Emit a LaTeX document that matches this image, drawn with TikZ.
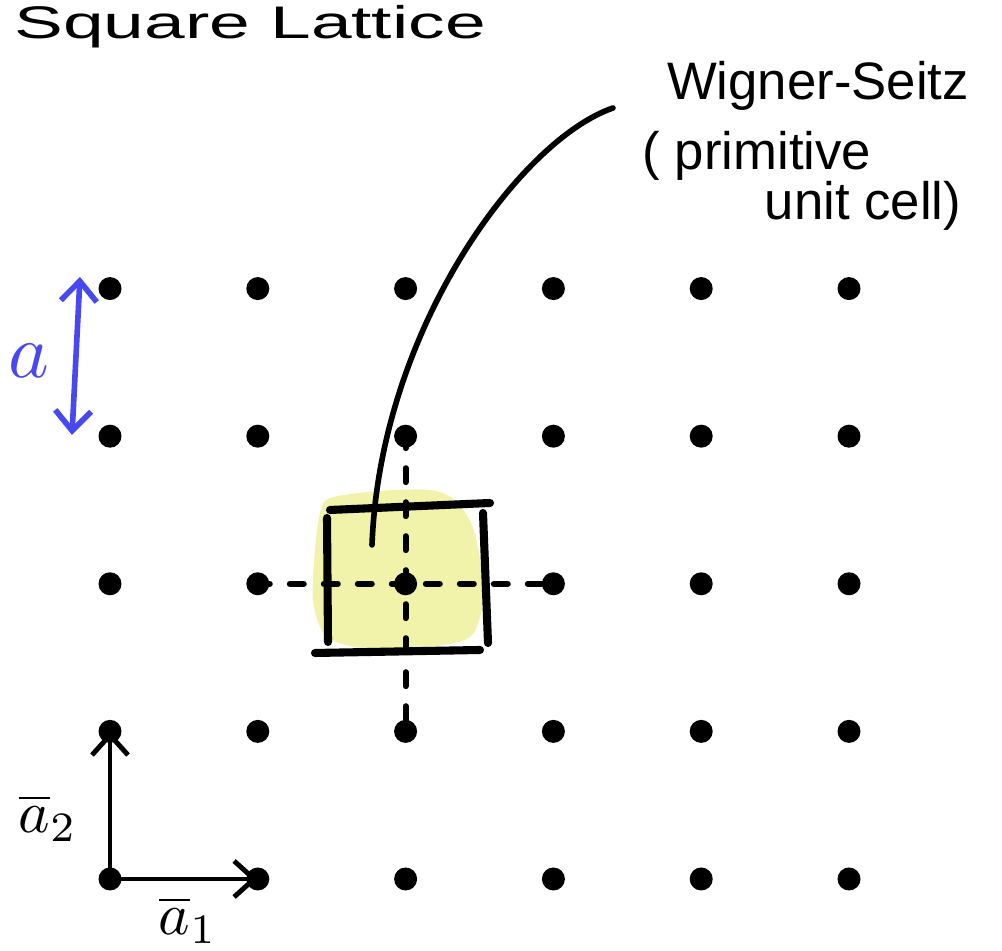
\documentclass[tikz,border=0pt]{standalone}
\usepackage{fontspec}
\setmainfont{Liberation Sans}
\usepackage{amsmath}
\usetikzlibrary{arrows.meta,backgrounds}
\definecolor{azulA}{HTML}{4848F2}
\definecolor{amarilloWS}{HTML}{F1F3AA}

\begin{document}
\begin{tikzpicture}[
    punto/.style={circle,fill=black,inner sep=0pt,minimum size=0.23cm},
    borde/.style={line width=2.3pt,line cap=round},
    guia/.style={line width=1.7pt,line cap=round,dash pattern=on 0.14cm off 0.2cm,dash phase=0.02cm},
    vect/.style={line width=1.4pt,line cap=round,-{Straight Barb[length=0.2cm,width=0.36cm]}},
    mano/.style={font=\fontsize{15}{16}\selectfont,inner sep=0pt,anchor=base}]
    \useasboundingbox (0,0) rectangle (10.02,9.51);
    % red
    \foreach \i in {0,...,5}
      \foreach \j in {0,...,4}
        \node[punto] (p\i\j) at ({1.10+1.478*\i},{0.72+1.476*\j}) {};
    % celda de Wigner-Seitz
    \begin{scope}[on background layer]
      \fill[amarilloWS] plot[smooth cycle] coordinates {(3.30,4.53) (3.80,4.60) (4.30,4.61)
        (4.55,4.51) (4.72,4.26) (4.80,3.91) (4.83,3.51) (4.70,3.14) (4.20,3.03)
        (3.60,3.03) (3.25,3.16) (3.13,3.51) (3.15,4.01) (3.20,4.38)};
    \end{scope}
    \draw[guia] (p12.center) -- (p32.center);
    \draw[guia] (p23.center) -- (p21.center);
    \draw[borde] (3.30,4.41) -- (4.90,4.48);
    \draw[borde] (3.27,4.33) -- (3.28,3.09);
    \draw[borde] (3.15,2.98) -- (4.80,3.01);
    \draw[borde] (4.83,4.38) -- (4.88,3.08);
    % textos
    \node[anchor=base west,font=\fontsize{13}{14}\selectfont] (titulo) at (0.02,9.12)
      {\scalebox{1.6}[1]{Square Lattice}};
    \node[mano] (ws1) at (8.18,8.51) {Wigner-Seitz};
    \node[mano] (ws2) at (7.57,7.81) {( primitive};
    \node[mano] (ws3) at (8.63,7.31) {unit cell)};
    \coordinate (ini) at (6.13,8.43);
    \coordinate (fin) at (3.72,4.06);
    \draw[line width=1.6pt,line cap=round] (ini) .. controls (5.20,8.11) and (3.80,6.21) .. (fin);
    % constante de red
    \coordinate (aSup) at (0.80,6.74);
    \coordinate (aInf) at (0.72,5.16);
    \draw[azulA,line width=1.6pt,line cap=round,
      {Straight Barb[length=0.2cm,width=0.36cm]}-{Straight Barb[length=0.2cm,width=0.36cm]}] (aSup) -- (aInf);
    \node[text=azulA] (etA) at (0.29,5.90) {\scalebox{2.2}{$a$}};
    % vectores primitivos
    \draw[vect] (p00.center) -- (p10.center);
    \draw[vect] (p00.center) -- (p01.center);
    \node (etA1) at (1.88,0.31) {\scalebox{1.7}{$\overline{a}_{1}$}};
    \node (etA2) at (0.48,1.33) {\scalebox{1.7}{$\overline{a}_{2}$}};
\end{tikzpicture}
\end{document}
